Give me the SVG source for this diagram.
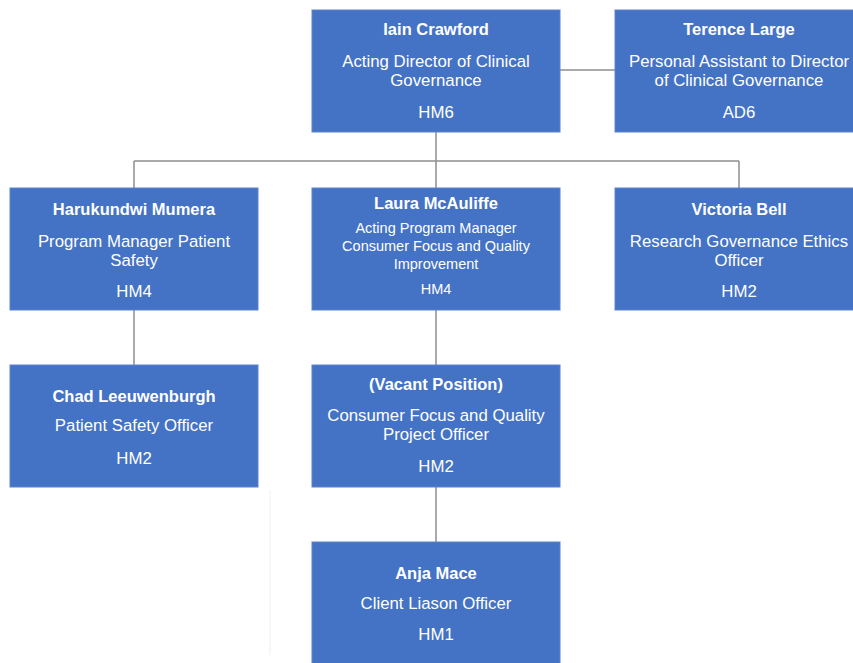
<svg xmlns="http://www.w3.org/2000/svg" width="853" height="663" viewBox="0 0 853 663">
  <style>
    .box { fill: #4472c4; stroke: #5a84cc; stroke-width: 1; }
    .link { stroke: #8e8e8e; stroke-width: 1.5; fill: none; }
    text { font-family: "Liberation Sans", Arial, sans-serif; fill: #ffffff; text-anchor: middle; }
    .name { font-size: 16.5px; font-weight: bold; }
    .role { font-size: 16.8px; }
    .small { font-size: 14.5px; }
  </style>
  <rect width="853" height="663" fill="#ffffff"/>

  <g id="connectors">
    <line class="link" x1="560" y1="70" x2="615" y2="70"/>
    <line class="link" x1="436" y1="132" x2="436" y2="161"/>
    <line class="link" x1="134" y1="161" x2="739" y2="161"/>
    <line class="link" x1="134" y1="161" x2="134" y2="188"/>
    <line class="link" x1="436" y1="161" x2="436" y2="188"/>
    <line class="link" x1="739" y1="161" x2="739" y2="188"/>
    <line class="link" x1="134" y1="310" x2="134" y2="365"/>
    <line class="link" x1="436" y1="310" x2="436" y2="365"/>
    <line class="link" x1="436" y1="487" x2="436" y2="542"/>
  </g>

  <!-- faint vertical rule below the left column -->
  <line x1="270" y1="490" x2="270" y2="655" stroke="#f0f0f0" stroke-width="1"/>

  <g id="iain-crawford">
    <rect class="box" x="312" y="10" width="248" height="122"/>
    <text class="name" x="436" y="35">Iain Crawford</text>
    <text class="role" x="436" y="67">Acting Director of Clinical</text>
    <text class="role" x="436" y="86">Governance</text>
    <text class="role" x="436" y="118">HM6</text>
  </g>

  <g id="terence-large">
    <rect class="box" x="615" y="10" width="248" height="122"/>
    <text class="name" x="739" y="35">Terence Large</text>
    <text class="role" x="739" y="67">Personal Assistant to Director</text>
    <text class="role" x="739" y="86">of Clinical Governance</text>
    <text class="role" x="739" y="118">AD6</text>
  </g>

  <g id="harukundwi-mumera">
    <rect class="box" x="10" y="188" width="248" height="122"/>
    <text class="name" x="134" y="215">Harukundwi Mumera</text>
    <text class="role" x="134" y="247">Program Manager Patient</text>
    <text class="role" x="134" y="266">Safety</text>
    <text class="role" x="134" y="297">HM4</text>
  </g>

  <g id="laura-mcauliffe">
    <rect class="box" x="312" y="188" width="248" height="122"/>
    <text class="name" x="436" y="209">Laura McAuliffe</text>
    <text class="small" x="436" y="233">Acting Program Manager</text>
    <text class="small" x="436" y="251">Consumer Focus and Quality</text>
    <text class="small" x="436" y="269">Improvement</text>
    <text class="small" x="436" y="294">HM4</text>
  </g>

  <g id="victoria-bell">
    <rect class="box" x="615" y="188" width="248" height="122"/>
    <text class="name" x="739" y="215">Victoria Bell</text>
    <text class="role" x="739" y="247">Research Governance Ethics</text>
    <text class="role" x="739" y="266">Officer</text>
    <text class="role" x="739" y="297">HM2</text>
  </g>

  <g id="chad-leeuwenburgh">
    <rect class="box" x="10" y="365" width="248" height="122"/>
    <text class="name" x="134" y="402">Chad Leeuwenburgh</text>
    <text class="role" x="134" y="431">Patient Safety Officer</text>
    <text class="role" x="134" y="464">HM2</text>
  </g>

  <g id="vacant-position">
    <rect class="box" x="312" y="365" width="248" height="122"/>
    <text class="name" x="436" y="390">(Vacant Position)</text>
    <text class="role" x="436" y="421">Consumer Focus and Quality</text>
    <text class="role" x="436" y="440">Project Officer</text>
    <text class="role" x="436" y="472">HM2</text>
  </g>

  <g id="anja-mace">
    <rect class="box" x="312" y="542" width="248" height="122"/>
    <text class="name" x="436" y="579">Anja Mace</text>
    <text class="role" x="436" y="609">Client Liason Officer</text>
    <text class="role" x="436" y="640">HM1</text>
  </g>
</svg>
